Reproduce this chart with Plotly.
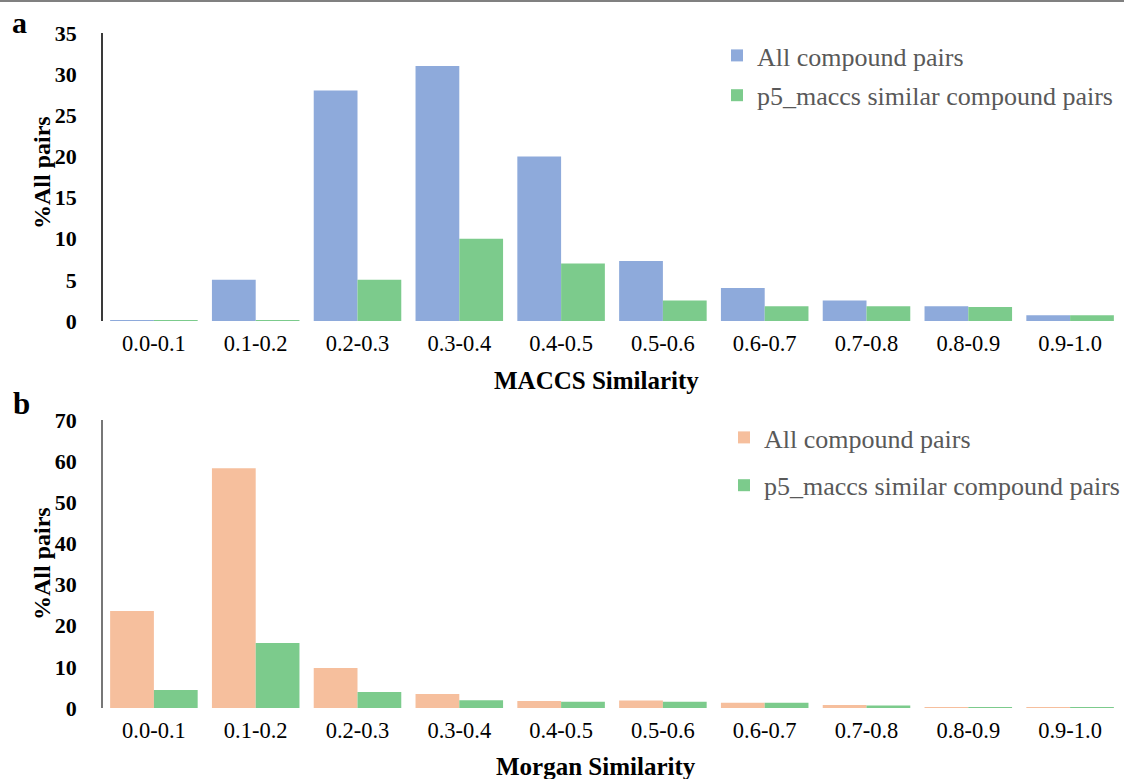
import plotly.graph_objects as go
from plotly.subplots import make_subplots

categories = ["0.0-0.1", "0.1-0.2", "0.2-0.3", "0.3-0.4", "0.4-0.5",
              "0.5-0.6", "0.6-0.7", "0.7-0.8", "0.8-0.9", "0.9-1.0"]

maccs_all = [0.1, 5.0, 28.0, 31.0, 20.0, 7.3, 4.0, 2.5, 1.8, 0.7]
maccs_p5 = [0.1, 0.1, 5.0, 10.0, 7.0, 2.5, 1.8, 1.8, 1.7, 0.7]

morgan_all = [23.6, 58.3, 9.7, 3.4, 1.7, 1.8, 1.3, 0.7, 0.2, 0.2]
morgan_p5 = [4.4, 15.8, 3.9, 1.9, 1.5, 1.5, 1.3, 0.6, 0.15, 0.15]

BLUE = "#8EAADB"
GREEN = "#7CCB8C"
ORANGE = "#F6BF9D"
FONT = "Liberation Serif"

W, H = 1124, 779
L, R = 103, 3

fig = make_subplots(rows=2, cols=1)

fig.add_trace(go.Bar(x=categories, y=maccs_all, name="All compound pairs",
                     marker=dict(color=BLUE, line=dict(width=0)),
                     legend="legend", legendgroup="a1"), row=1, col=1)
fig.add_trace(go.Bar(x=categories, y=maccs_p5, name="p5_maccs similar compound pairs",
                     marker=dict(color=GREEN, line=dict(width=0)),
                     legend="legend", legendgroup="a2"), row=1, col=1)
fig.add_trace(go.Bar(x=categories, y=morgan_all, name="All compound pairs",
                     marker=dict(color=ORANGE, line=dict(width=0)),
                     legend="legend2", legendgroup="b1"), row=2, col=1)
fig.add_trace(go.Bar(x=categories, y=morgan_p5, name="p5_maccs similar compound pairs",
                     marker=dict(color=GREEN, line=dict(width=0)),
                     legend="legend2", legendgroup="b2"), row=2, col=1)

def py(p):
    return 1 - p / H

def fx(p):
    return (p - L) / (W - L - R)

xaxis_common = dict(showline=False, ticks="", showgrid=False, zeroline=False,
                    automargin=False,
                    tickfont=dict(family=FONT, size=22.5, color="black"),
                    ticklabelstandoff=6, domain=[0, 1])
yaxis_common = dict(showline=True, linewidth=1.5, automargin=False,
                    ticks="", showgrid=False, zeroline=False,
                    tickfont=dict(family=FONT, size=22, color="black", weight="bold"),
                    ticklabelstandoff=20)

fig.update_layout(
    width=W, height=H,
    margin=dict(l=L, r=R, t=0, b=0, autoexpand=False),
    paper_bgcolor="white", plot_bgcolor="white",
    barmode="group", bargap=0.14, bargroupgap=0,
    font=dict(family=FONT),
    xaxis=dict(**xaxis_common),
    xaxis2=dict(**xaxis_common),
    yaxis=dict(**yaxis_common, linecolor="#3a3a3a", range=[0, 35], dtick=5,
               domain=[py(321), py(33)]),
    yaxis2=dict(**yaxis_common, linecolor="#777777", range=[0, 70], dtick=10,
                domain=[py(708), py(420)]),
    legend=dict(x=fx(717), y=py(32), xanchor="left", yanchor="top",
                font=dict(family=FONT, size=26, color="#595959"),
                bgcolor="rgba(0,0,0,0)", traceorder="grouped", tracegroupgap=3,
                itemwidth=30),
    legend2=dict(x=fx(724), y=py(414), xanchor="left", yanchor="top",
                 font=dict(family=FONT, size=26, color="#595959"),
                 bgcolor="rgba(0,0,0,0)", traceorder="grouped", tracegroupgap=11,
                 itemwidth=30),
)

annotations = [
    dict(text="<b>a</b>", x=fx(19), y=py(22), font=dict(size=30)),
    dict(text="<b>b</b>", x=fx(21), y=py(404), font=dict(size=31)),
    dict(text="<b>%All pairs</b>", x=fx(42), y=py(173), textangle=-90, font=dict(size=24)),
    dict(text="<b>%All pairs</b>", x=fx(42), y=py(564), textangle=-90, font=dict(size=24)),
    dict(text="<b>MACCS Similarity</b>", x=fx(596), y=py(381), font=dict(size=25)),
    dict(text="<b>Morgan Similarity</b>", x=fx(596), y=py(766), font=dict(size=25)),
]
for a in annotations:
    a.update(xref="paper", yref="paper", showarrow=False, xanchor="center", yanchor="middle")
    a["font"].update(family=FONT, color="black")
fig.update_layout(annotations=annotations)

fig.add_shape(type="line", xref="paper", yref="paper",
              x0=fx(0), x1=fx(W), y0=py(1), y1=py(1),
              line=dict(color="#808080", width=2))

fig.write_html("out.html")
